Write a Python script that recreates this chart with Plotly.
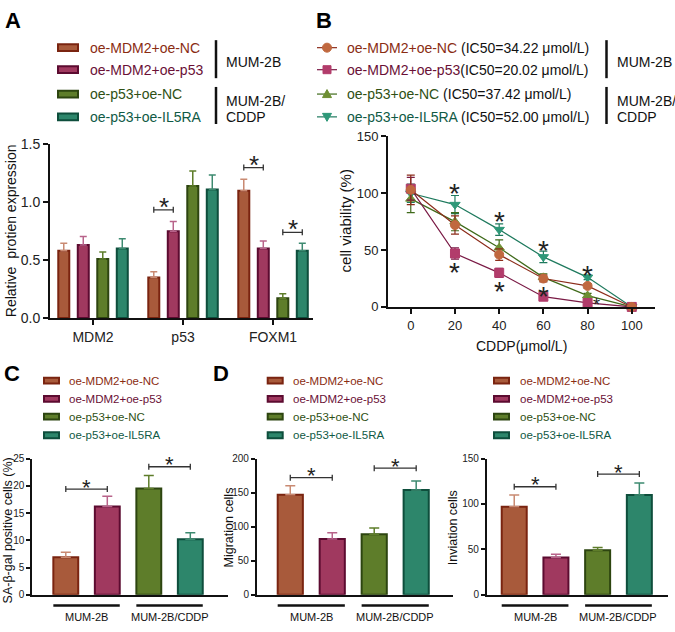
import plotly.graph_objects as go

W, H = 675, 632
def fx(p): return p / W
def fy(p): return 1 - p / H

FONT = "Liberation Sans, Arial, Helvetica, sans-serif"

# ---------------- data ----------------
groups = ["oe-MDM2+oe-NC", "oe-MDM2+oe-p53", "oe-p53+oe-NC", "oe-p53+oe-IL5RA"]
fill_colors = ["#A85A3B", "#A0395F", "#5E7D2A", "#2D866B"]
edge_colors = ["#7A2410", "#5C0B30", "#2D4510", "#0E4E3C"]
err_colors = ["#C98A72", "#B8638A", "#5E7D2A", "#3D8A70"]
text_colors = ["#8A2C12", "#6A1036", "#2E5014", "#105A45"]
line_colors_b = ["#8C2D1B", "#7A1A45", "#3F6A1A", "#1F7A5E"]
marker_colors_b = ["#C0683F", "#B23C6B", "#6E8F33", "#2E9878"]
symbols_b = ["circle", "square", "triangle-up", "triangle-down"]

# Panel A
proteins = ["MDM2", "p53", "FOXM1"]
a_mdm2_nc = [0.58, 0.35, 1.10]
a_mdm2_nc_err = [0.065, 0.05, 0.10]
a_mdm2_p53 = [0.63, 0.75, 0.60]
a_mdm2_p53_err = [0.075, 0.085, 0.065]
a_p53_nc = [0.51, 1.14, 0.17]
a_p53_nc_err = [0.06, 0.13, 0.04]
a_p53_il5ra = [0.60, 1.11, 0.58]
a_p53_il5ra_err = [0.085, 0.125, 0.065]
a_ticks = [0, 0.5, 1.0, 1.5]
a_sig_protein = [1, 2, 2]
a_sig_left = [0, 0, 2]
a_sig_right = [1, 1, 3]
a_sig_y = [0.935, 1.30, 0.74]

# Panel B
cddp = [0, 20, 40, 60, 80, 100]
b_mdm2_nc = [103, 72, 46, 25, 18.5, 0]
b_mdm2_nc_err = [13, 8, 5, 3, 2, 0]
b_mdm2_p53 = [104, 47, 30, 9, 3.5, 0]
b_mdm2_p53_err = [10, 5, 4, 2, 1.5, 0]
b_p53_nc = [95, 75, 52, 26, 10, 0]
b_p53_nc_err = [12, 8, 7, 3, 2, 0]
b_p53_il5ra = [100, 90, 68, 44, 26, 0]
b_p53_il5ra_err = [8, 8, 5, 5, 2, 0]
b_ic50 = ["34.22", "20.02", "37.42", "52.00"]
b_ticks_x = [0, 20, 40, 60, 80, 100]
b_ticks_y = [0, 50, 100, 150]
b_star_x = [20, 20, 40, 40, 60, 60, 80, 84]
b_star_y = [106, 36, 81, 19.5, 56, 15, 34, 5.5]
b_star_size = [28, 28, 28, 28, 28, 28, 28, 18]

# Panels C / D
cell_lines = ["MUM-2B", "MUM-2B/CDDP"]
c_sa_gal = [6.9, 16.2, 19.5, 10.2]
c_sa_gal_err = [0.9, 1.9, 2.4, 1.2]
d_migration = [147, 82, 89, 154]
d_migration_err = [13, 9, 9, 13]
d_invasion = [97, 41, 49, 110]
d_invasion_err = [13, 3.5, 3, 13]
c_sig_y = [19.4, 23.5]
d_mig_sig_y = [172, 186]
d_inv_sig_y = [119, 133]

# ---------------- figure ----------------
fig = go.Figure()
shapes = []
annotations = []

def ann(x, y, text, size, color="#111", xanchor="center", yanchor="middle",
        xref="paper", yref="paper", bold=False, angle=0, yshift=0):
    if bold:
        text = "<b>" + text + "</b>"
    annotations.append(dict(x=x, y=y, xref=xref, yref=yref, text=text, showarrow=False,
                            xanchor=xanchor, yanchor=yanchor, textangle=angle, yshift=yshift,
                            font=dict(family=FONT, size=size, color=color)))

def sig(xref, yref, x0, x1, y, star_size, yshift):
    shapes.append(dict(type="line", xref=xref, yref=yref, x0=x0, x1=x1, y0=y, y1=y,
                       line=dict(color="#333", width=1.3)))
    for xv in (x0, x1):
        shapes.append(dict(type="line", xref=xref, yref=yref, x0=xv, x1=xv,
                           ysizemode="pixel", yanchor=y, y0=-3, y1=3,
                           line=dict(color="#333", width=1.3)))
    ann((x0 + x1) / 2, y, "*", star_size, color="#222", xref=xref, yref=yref, yshift=yshift)

# ---- Panel A bars
a_vals = [a_mdm2_nc, a_mdm2_p53, a_p53_nc, a_p53_il5ra]
a_errs = [a_mdm2_nc_err, a_mdm2_p53_err, a_p53_nc_err, a_p53_il5ra_err]
a_step = 19.5 / 90
a_w = 11.0 / 90
a_centers = [(i - 1.5) * a_step for i in range(4)]
for i in range(4):
    fig.add_trace(go.Bar(
        x=list(range(len(proteins))), y=a_vals[i], width=[a_w] * 3,
        offset=a_centers[i] - a_w / 2, xaxis="x", yaxis="y",
        marker=dict(color=fill_colors[i], line=dict(color=edge_colors[i], width=2)),
        error_y=dict(type="data", array=a_errs[i], symmetric=False, arrayminus=[0] * 3,
                     color=err_colors[i], thickness=1.5, width=3.5),
        showlegend=False, name=groups[i]))
for k in range(len(a_sig_y)):
    p = a_sig_protein[k]
    sig("x", "y", p + a_centers[a_sig_left[k]], p + a_centers[a_sig_right[k]], a_sig_y[k], 26, 3)

# ---- Panel B lines
b_vals = [b_mdm2_nc, b_mdm2_p53, b_p53_nc, b_p53_il5ra]
b_errs = [b_mdm2_nc_err, b_mdm2_p53_err, b_p53_nc_err, b_p53_il5ra_err]
for i in [3, 2, 1, 0]:
    fig.add_trace(go.Scatter(
        x=cddp, y=b_vals[i], mode="lines+markers", xaxis="x2", yaxis="y2",
        line=dict(color=line_colors_b[i], width=1.2),
        marker=dict(symbol=symbols_b[i], size=9, color=marker_colors_b[i],
                    line=dict(color=marker_colors_b[i], width=1)),
        error_y=dict(type="data", array=b_errs[i], color=line_colors_b[i], thickness=1.2, width=4),
        cliponaxis=False, showlegend=False, name=groups[i]))
for sx, sy, ssz in zip(b_star_x, b_star_y, b_star_size):
    ann(sx, sy, "*", ssz, color="#222", xref="x2", yref="y2", yshift=-ssz * 0.25)

# ---- Panels C / D bars
cd_w = 25.0 / 41.7
panels_cd = [("x3", "y3", c_sa_gal, c_sa_gal_err, c_sig_y, 22),
             ("x4", "y4", d_migration, d_migration_err, d_mig_sig_y, 22),
             ("x5", "y5", d_invasion, d_invasion_err, d_inv_sig_y, 22)]
for xa, ya, vals, errs, sigy, ss in panels_cd:
    for i in range(4):
        fig.add_trace(go.Bar(
            x=[i], y=[vals[i]], width=[cd_w], xaxis=xa, yaxis=ya,
            marker=dict(color=fill_colors[i], line=dict(color=edge_colors[i], width=2)),
            error_y=dict(type="data", array=[errs[i]], symmetric=False, arrayminus=[0],
                         color=err_colors[i], thickness=1.5, width=5),
            showlegend=False, name=groups[i]))
    sig(xa, ya, 0, 1, sigy[0], ss, 2)
    sig(xa, ya, 2, 3, sigy[1], ss, 2)
    for j, lab in enumerate(cell_lines):
        shapes.append(dict(type="line", xref=xa, yref="paper", x0=2 * j - 0.3, x1=2 * j + 1.3,
                           y0=fy(613), y1=fy(613), line=dict(color="#111", width=2.5)))
        ann(2 * j + 0.5, fy(625), lab, 11, xref=xa)

# ---------------- axes ----------------
def axis(domain, rng, lw=2, tl=5, tw=2, size=14, **kw):
    d = dict(domain=domain, range=rng, showline=True, linecolor="#111", linewidth=lw,
             ticks="outside", ticklen=tl, tickwidth=tw, tickcolor="#111",
             showgrid=False, zeroline=False, fixedrange=True,
             tickfont=dict(family=FONT, size=size, color="#222"))
    d.update(kw)
    return d

layout = dict(
    width=W, height=H, margin=dict(l=0, r=0, t=0, b=0),
    paper_bgcolor="white", plot_bgcolor="white", barmode="overlay",
    font=dict(family=FONT),
    xaxis=axis([fx(50), fx(313)], [-0.478, 2.444], anchor="y",
               tickmode="array", tickvals=list(range(len(proteins))), ticktext=proteins),
    yaxis=axis([fy(318), fy(140)], [0, 1.5], anchor="x",
               tickmode="array", tickvals=a_ticks, ticktext=["0.0", "0.5", "1.0", "1.5"]),
    xaxis2=axis([fx(388), fx(655)], [-10.3, 110.5], anchor="y2", size=13,
                tickmode="array", tickvals=b_ticks_x),
    yaxis2=axis([fy(306.7), fy(131.7)], [0, 150], anchor="x2", size=13,
                tickmode="array", tickvals=b_ticks_y),
    xaxis3=axis([fx(32), fx(228)], [-0.814, 3.908], anchor="y3", lw=1.5, ticks="",
                showticklabels=False),
    yaxis3=axis([fy(602), fy(462.3)], [0, 25], anchor="x3", lw=1.5, tl=4, tw=1.5, size=10,
                tickmode="array", tickvals=[0, 5, 10, 15, 20, 25]),
    xaxis4=axis([fx(256.7), fx(453)], [-0.80, 3.877], anchor="y4", lw=1.5, ticks="",
                showticklabels=False),
    yaxis4=axis([fy(602), fy(462.3)], [0, 200], anchor="x4", lw=1.5, tl=4, tw=1.5, size=10,
                tickmode="array", tickvals=[0, 50, 100, 150, 200]),
    xaxis5=axis([fx(486.7), fx(667.7)], [-0.66, 3.68], anchor="y5", lw=1.5, ticks="",
                showticklabels=False),
    yaxis5=axis([fy(602), fy(462.3)], [0, 150], anchor="x5", lw=1.5, tl=4, tw=1.5, size=10,
                tickmode="array", tickvals=[0, 50, 100, 150]),
)

# ---------------- axis titles ----------------
ann(fx(11), fy(229), "Relative  protien expression", 14, angle=-90)
ann(fx(345), fy(219), "cell viability (%)", 15, angle=-90)
ann(fx(521.7), fy(346.7), "CDDP(μmol/L)", 14)
ann(fx(8), fy(536), "SA-β-gal positive cells (%)", 12.5, angle=-90)
ann(fx(229), fy(533), "Migration cells", 12.5, angle=-90)
ann(fx(452.7), fy(533), "Inviation cells", 12.5, angle=-90)

# ---------------- panel letters ----------------
ann(fx(13), fy(13), "A", 22, color="#000", bold=True)
ann(fx(324), fy(13), "B", 22, color="#000", bold=True)
ann(fx(12), fy(375), "C", 22, color="#000", bold=True)
ann(fx(221), fy(375), "D", 22, color="#000", bold=True)

# ---------------- legends ----------------
rows_ab = [40.7, 63.3, 88.3, 111.7]
rows_cd = [382.3, 401, 419.3, 438.3]

def swatch(x0, x1, yc, h, i):
    shapes.append(dict(type="rect", xref="paper", yref="paper",
                       x0=fx(x0), x1=fx(x1), y0=fy(yc + h / 2), y1=fy(yc - h / 2),
                       fillcolor=fill_colors[i], line=dict(color=edge_colors[i], width=2)))

for i in range(4):
    # A legend
    swatch(58, 78, rows_ab[i], 7, i)
    ann(fx(88), fy(rows_ab[i]), groups[i], 14, color=text_colors[i], xanchor="left")
    # B legend
    shapes.append(dict(type="line", xref="paper", yref="paper", x0=fx(317), x1=fx(337),
                       y0=fy(rows_ab[i]), y1=fy(rows_ab[i]),
                       line=dict(color=line_colors_b[i], width=1.2)))
    mk = dict(xref="paper", yref="paper", xsizemode="pixel", ysizemode="pixel",
              xanchor=fx(327), yanchor=fy(rows_ab[i]), fillcolor=marker_colors_b[i],
              line=dict(color=marker_colors_b[i], width=1))
    if symbols_b[i] == "circle":
        shapes.append(dict(type="circle", x0=-4.5, x1=4.5, y0=-4.5, y1=4.5, **mk))
    elif symbols_b[i] == "square":
        shapes.append(dict(type="rect", x0=-4, x1=4, y0=-4, y1=4, **mk))
    elif symbols_b[i] == "triangle-up":
        shapes.append(dict(type="path", path="M-4.5,-3.5 L4.5,-3.5 L0,4.5 Z", **mk))
    else:
        shapes.append(dict(type="path", path="M-4.5,3.5 L4.5,3.5 L0,-4.5 Z", **mk))
    sep = "" if i == 1 else " "
    ann(fx(345), fy(rows_ab[i]),
        "<span style='color:%s'>%s</span>%s(IC50=%s μmol/L)" % (text_colors[i], groups[i], sep, b_ic50[i]),
        14, color="#111", xanchor="left")
    # C / D legends
    for sx0, tx in ((44, 67), (267.7, 290.7), (494, 517.7)):
        swatch(sx0, sx0 + 15, rows_cd[i], 6, i)
        ann(fx(tx), fy(rows_cd[i]), groups[i], 11.5, color=text_colors[i], xanchor="left")

# legend group brackets
for xb, tx in ((216, 224), (606.5, 615)):
    shapes.append(dict(type="line", xref="paper", yref="paper", x0=fx(xb), x1=fx(xb),
                       y0=fy(33), y1=fy(72), line=dict(color="#111", width=2.5)))
    shapes.append(dict(type="line", xref="paper", yref="paper", x0=fx(xb), x1=fx(xb),
                       y0=fy(81), y1=fy(119), line=dict(color="#111", width=2.5)))
    ann(fx(tx), fy(55), cell_lines[0], 14, xanchor="left")
    ann(fx(tx), fy(95), "MUM-2B/", 14, xanchor="left")
    ann(fx(tx), fy(111.5), "CDDP", 14, xanchor="left")

layout["shapes"] = shapes
layout["annotations"] = annotations
fig.update_layout(**layout)
fig.write_html("out.html", config={"displayModeBar": False},
               post_script="document.body.style.margin='0';document.body.style.overflow='hidden';")
